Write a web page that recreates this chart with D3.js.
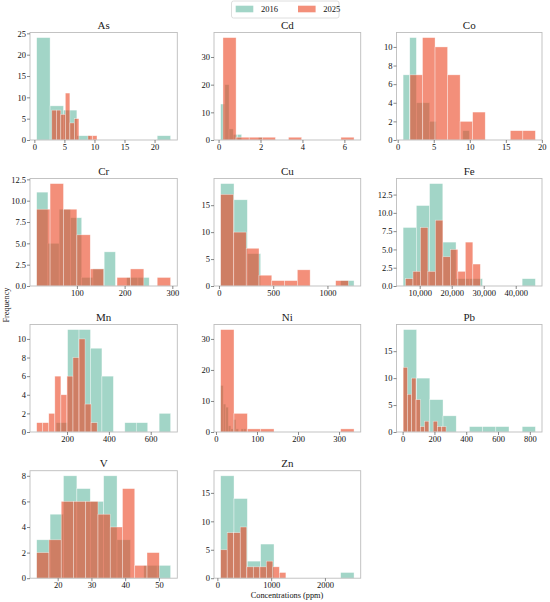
<!DOCTYPE html>
<html><head><meta charset="utf-8">
<script src="https://cdn.jsdelivr.net/npm/d3@7"></script>
<style>
body{margin:0;background:#fff}
</style>
</head><body>
<svg id="chart" width="550" height="602"></svg>
<script>
// ---- data ----
const elements = ["As","Cd","Co","Cr","Cu","Fe","Mn","Ni","Pb","V","Zn"];
const years = ["2016","2025"];
// histogram bin ranges [first edge, last edge] (ppm), 10 equal bins each
const range2016 = [[0.39,22.67],[0.1,2.1],[0.75,9.95],[15.7,251.5],[15.7,1245],[4820,46140],[148,695],[11.4,73.5],[5,835],[13.78,53.46],[61.5,2541]];
const range2025 = [[2.9,10.42],[0.21,6.46],[1.7,19.1],[15.7,296.4],[15.7,1193.6],[5560,28940],[55,344],[11.4,336.5],[3,273],[13.78,50.1],[61.5,1274]];
const counts2016 = [
  [24,8,7,1,0,0,0,0,0,1],
  [13,20,4,2,2,0,0,0,0,1],
  [7,11,4,4,2,0,0,0,0,1],
  [11,5,9,8,1,2,4,0,1,1],
  [19,16,6,0,0,0,0,0,0,1],
  [8,11,14,6,1,1,0,0,0,1],
  [1,11,11,9,6,0,1,1,0,2],
  [15,9,8,2,1,4,1,0,1,1],
  [19,10,6,3,0,1,1,1,0,1],
  [3,5,8,7,6,8,3,0,1,1],
  [18,14,3,6,0,0,0,0,0,1]
];
const counts2025 = [
  [7,7,6,11,4,5,0,0,1,1],
  [37,1,1,1,0,1,0,0,0,1],
  [7,11,10,7,2,3,0,0,1,1],
  [9,12,9,6,2,0,1,2,0,1],
  [17,10,7,2,1,1,3,0,0,1],
  [1,2,8,2,9,4,5,2,6,3],
  [1,1,2,6,4,6,8,10,3,1],
  [33,6,1,1,0,0,0,0,0,1],
  [12,7,10,6,1,2,0,2,1,1],
  [2,3,6,6,6,5,4,7,1,2],
  [5,8,8,9,2,2,2,3,2,1]
];
const xTicks = [[0,5,10,15,20],[0,2,4,6],[0,5,10,15,20],[100,200,300],[0,500,1000],[10000,20000,30000,40000],[200,400,600],[0,100,200,300],[0,200,400,600,800],[20,30,40,50],[0,1000,2000]];
const yTicks = [[0,5,10,15,20,25],[0,10,20,30],[0,2,4,6,8,10],[0,2.5,5,7.5,10,12.5],[0,5,10,15],[0,2.5,5,7.5,10,12.5],[0,2,4,6,8,10],[0,10,20,30],[0,5,10,15],[0,2,4,6,8],[0,5,10,15]];
const xLabel = "Concentrations (ppm)";
const yLabel = "Frequency";

// ---- styling / layout ----
const FONT = '"Liberation Serif","Times New Roman",serif';
const colors = {"2016":"#64b9a2","2025":"#eb4421"};
const alpha = 0.6;
const colLeft = [30, 214, 396.5], colRight = [177.3, 360.7, 542];
const rowTop = [32.5, 178.5, 324.5, 470.7], panelH = 107.5;

const svg = d3.select("#chart").attr("font-family", FONT);
const fs = 8.5;

elements.forEach((el, i) => {
  const col = i % 3, row = Math.floor(i / 3);
  const left = colLeft[col], right = colRight[col];
  const top = rowTop[row], bottom = top + panelH;
  const r16 = range2016[i], r25 = range2025[i];
  const mn = Math.min(r16[0], r25[0]), mx = Math.max(r16[1], r25[1]);
  const span = mx - mn;
  const xs = d3.scaleLinear().domain([mn - 0.05 * span, mx + 0.05 * span]).range([left, right]);
  const maxC = d3.max(counts2016[i].concat(counts2025[i]));
  const ys = d3.scaleLinear().domain([0, maxC * 1.05]).range([bottom, top]);
  const g = svg.append("g");

  [[r16, counts2016[i], "2016"], [r25, counts2025[i], "2025"]].forEach(([r, cnt, yr]) => {
    const w = (r[1] - r[0]) / cnt.length;
    const bins = cnt.map((c, k) => ({x0: r[0] + k * w, x1: r[0] + (k + 1) * w, c}));
    g.append("g").selectAll("rect").data(bins.filter(b => b.c > 0)).join("rect")
      .attr("x", b => xs(b.x0)).attr("width", b => xs(b.x1) - xs(b.x0))
      .attr("y", b => ys(b.c)).attr("height", b => ys(0) - ys(b.c))
      .attr("fill", colors[yr]).attr("fill-opacity", alpha)
      .attr("stroke", "#fff").attr("stroke-opacity", alpha).attr("stroke-width", 0.6);
  });

  // frame
  g.append("rect").attr("x", left).attr("y", top).attr("width", right - left).attr("height", bottom - top)
    .attr("fill", "none").attr("stroke", "#bdbdbd").attr("stroke-width", 0.9);

  const xfmt = el === "Fe" ? d3.format(",") : d3.format("d");
  const yfmt = (el === "Cr" || el === "Fe") ? d3.format(".1f") : d3.format("d");
  const xa = g.append("g").attr("transform", `translate(0,${bottom})`)
    .call(d3.axisBottom(xs).tickValues(xTicks[i]).tickFormat(xfmt).tickSize(3).tickPadding(0.5));
  const ya = g.append("g").attr("transform", `translate(${left},0)`)
    .call(d3.axisLeft(ys).tickValues(yTicks[i]).tickFormat(yfmt).tickSize(3).tickPadding(1));
  [xa, ya].forEach(a => {
    a.attr("font-family", FONT);
    a.select(".domain").remove();
    a.selectAll(".tick line").attr("stroke", "#555").attr("stroke-width", 0.7);
    a.selectAll(".tick text").attr("font-size", fs).attr("fill", "#111").attr("font-family", FONT);
  });

  g.append("text").attr("x", (left + right) / 2).attr("y", top - 4)
    .attr("text-anchor", "middle").attr("font-size", 11).attr("font-family", FONT).attr("fill", "#1a1a1a").text(el);
});

// legend
const lg = svg.append("g");
lg.append("rect").attr("x", 231.5).attr("y", 1).attr("width", 107.5).attr("height", 17).attr("rx", 2)
  .attr("fill", "#fff").attr("fill-opacity", 0.8).attr("stroke", "#d6d6d6").attr("stroke-width", 0.8);
const legX = [235.7, 298];
years.forEach((yr, k) => {
  lg.append("rect").attr("x", legX[k]).attr("y", 5.7).attr("width", 17.6).attr("height", 6.6)
    .attr("fill", colors[yr]).attr("fill-opacity", alpha);
  lg.append("text").attr("x", legX[k] + 25.3).attr("y", 12.4).attr("font-size", fs)
    .attr("font-family", FONT).attr("fill", "#111").text(yr);
});

// axis labels
svg.append("text").attr("x", 287).attr("y", 597.5).attr("text-anchor", "middle")
  .attr("font-size", 8.3).attr("font-family", FONT).attr("fill", "#111").text(xLabel);
svg.append("text").attr("transform", "translate(8.5,305) rotate(-90)").attr("text-anchor", "middle")
  .attr("font-size", 8.3).attr("font-family", FONT).attr("fill", "#111").text(yLabel);
</script>
</body></html>
